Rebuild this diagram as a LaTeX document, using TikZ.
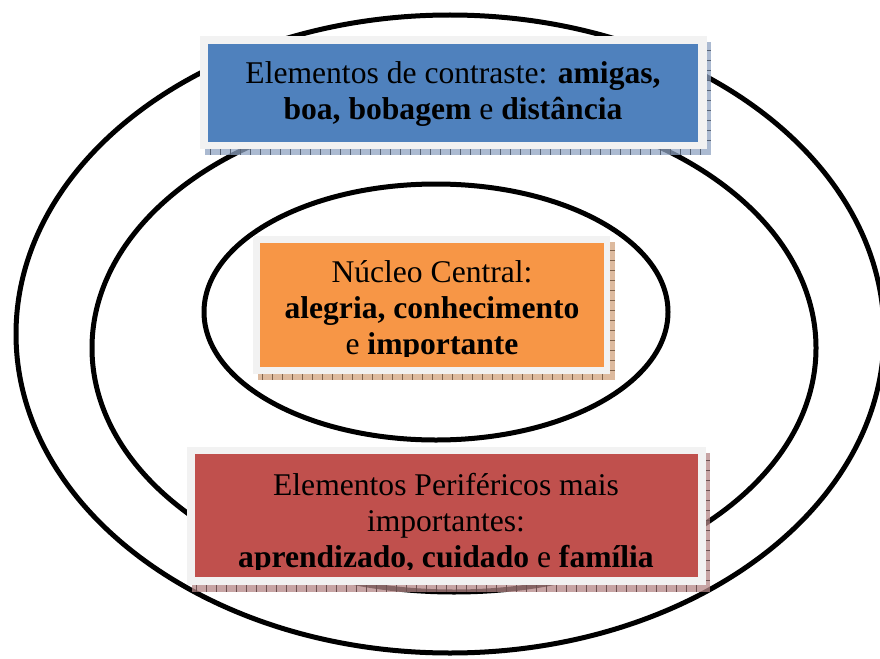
\documentclass[tikz,border=0pt]{standalone}
\usepackage{fontspec}
\setmainfont{Liberation Serif}
\usetikzlibrary{patterns}
\definecolor{frameGrey}{HTML}{F2F2F2}
\definecolor{boxBlue}{HTML}{4F81BD}
\definecolor{boxOrange}{HTML}{F79646}
\definecolor{boxRed}{HTML}{C0504D}
\definecolor{shBlue}{HTML}{8FA3C2}
\definecolor{shOrange}{HTML}{D2A37E}
\definecolor{shRed}{HTML}{B48686}
\begin{document}
\begin{tikzpicture}[x=1pt,y=-1pt,
  ring/.style={draw=black,line width=5pt},
  shadowbox/.style={fill=#1,fill opacity=0.75,draw=none},
  framebox/.style={fill=frameGrey,draw=none},
  colorbox/.style={fill=#1,draw=none},
  txt/.style={font=\fontsize{31.6}{36}\selectfont,anchor=base,inner sep=0pt}]
\useasboundingbox (0,0) rectangle (880,658);
% rings
\draw[ring] (450,334) ellipse [x radius=434pt, y radius=319pt];
\draw[ring] (454,348) ellipse [x radius=362pt, y radius=244pt];
\draw[ring] (436,312) ellipse [x radius=232pt, y radius=128pt];
% blue box
\fill[shadowbox=shBlue] (205,42) rectangle (711,155);
\foreach \t in {210,220,...,705} {\draw[shBlue!60!black,line width=0.6pt] (\t,149) -- (\t,155);}
\foreach \t in {50,60,...,145} {\draw[shBlue!60!black,line width=0.6pt] (707,\t) -- (711,\t);}
\fill[framebox] (200,36) rectangle (707,149);
\fill[colorbox=boxBlue] (208,44) rectangle (698,142);
\node[txt] (b1) at (453,84) {Elementos de contraste: \textbf{amigas,}};
\node[txt] (b2) at (453,120) {\textbf{boa,} \textbf{bobagem} e \textbf{distância}};
% orange box
\fill[shadowbox=shOrange] (258,242) rectangle (615,380);
\foreach \t in {262,272,...,610} {\draw[shOrange!60!black,line width=0.6pt] (\t,374) -- (\t,380);}
\foreach \t in {250,260,...,370} {\draw[shOrange!60!black,line width=0.6pt] (610,\t) -- (615,\t);}
\fill[framebox] (253,236) rectangle (610,374);
\fill[colorbox=boxOrange] (260,243) rectangle (604,367);
\begin{scope}
\clip (260,243) rectangle (604,356);
\node[txt] (o1) at (432,282) {Núcleo Central:};
\node[txt] (o2) at (432,318) {\textbf{alegria,} \textbf{conhecimento}};
\node[txt] (o3) at (432,354) {e \textbf{importante}};
\end{scope}
% red box
\fill[shadowbox=shRed] (192,453) rectangle (710,592);
\foreach \t in {196,206,...,705} {\draw[shRed!60!black,line width=0.6pt] (\t,585) -- (\t,592);}
\foreach \t in {460,470,...,580} {\draw[shRed!60!black,line width=0.6pt] (706,\t) -- (710,\t);}
\fill[framebox] (187,447) rectangle (706,585);
\fill[colorbox=boxRed] (195,454) rectangle (698,577);
\begin{scope}
\clip (195,454) rectangle (698,569);
\node[txt] (r1) at (446,495) {Elementos Periféricos mais};
\node[txt] (r2) at (446,531) {importantes:};
\node[txt] (r3) at (446,567) {\textbf{aprendizado,} \textbf{cuidado} e \textbf{família}};
\end{scope}
\end{tikzpicture}
\end{document}
